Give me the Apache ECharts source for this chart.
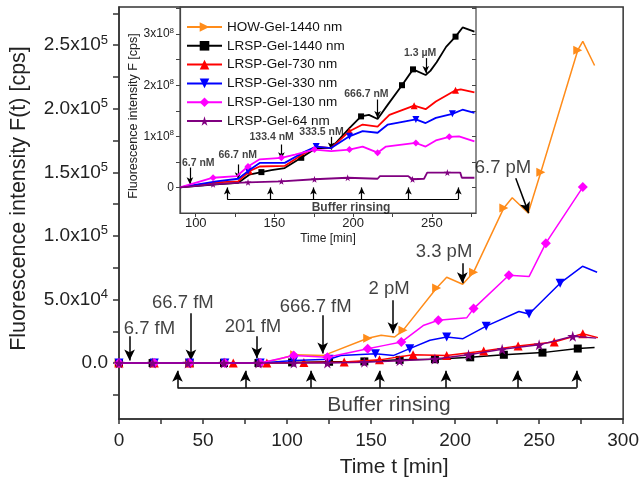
<!DOCTYPE html>
<html>
<head>
<meta charset="utf-8">
<script src="https://cdn.jsdelivr.net/npm/echarts@6/dist/echarts.min.js"></script>
<style>
  html, body { margin: 0; padding: 0; background: #fff; }
  #chart { width: 642px; height: 485px; }
</style>
</head>
<body>
<div id="chart"></div>
<script>
const FONT = '"Liberation Sans", Arial, sans-serif';

const seriesNames = ['HOW-Gel-1440 nm', 'LRSP-Gel-1440 nm', 'LRSP-Gel-730 nm', 'LRSP-Gel-330 nm', 'LRSP-Gel-130 nm', 'LRSP-Gel-64 nm'];

// main plot: [time min, F cps]
const howGel1440 = [[0,0],[21,0],[42,0],[63,0],[84,0],[95,3000],[104.5,6500],[122,6000],[148,19500],[156,21800],[164,20500],[169,25700],[189,59000],[195,67500],[204.5,62000],[211,71500],[229,122000],[234,130000],[243.5,118000],[251,150000],[273,246000],[276,253000],[283,234000]];
const howGel1440Marks = [0,21,42,63,84,104.5,148,169,189,211,229,251,273];
const lrsp1440 = [[0,0],[20,0],[42,0],[62.5,0],[83,0],[103,500],[125,1000],[146,1300],[167,2500],[188,3000],[209,4500],[229,6500],[252,8200],[273,11400],[283,12200]];
const lrsp1440Marks = [0,20,42,62.5,83,103,125,146,167,188,209,229,252,273];
const lrsp730 = [[0,0],[21,0],[42,0],[68,0],[88,0],[110,500],[134,800],[155,2500],[175,6500],[195,6000],[217,9500],[237.5,13500],[259,16500],[276,23000],[285,20000]];
const lrsp730Marks = [0,21,42,68,88,110,134,155,175,195,217,237.5,259,276];
const lrsp330 = [[0,0],[21,0],[42,0],[63,0],[84,0],[104,2000],[125,3000],[132,6000],[152.6,7400],[163.5,6000],[173,11300],[185,17900],[195,20500],[204.7,19200],[218.5,29000],[238,40500],[244,38500],[262.5,62800],[275.8,76100],[284.5,71400]];
const lrsp330Marks = [0,21,42,63,84,104,125,152.6,173,195,218.5,244,262.5];
const lrsp130 = [[0,0],[21,0],[42,0],[63,0],[84,0],[104,6000],[124,4500],[148,11300],[158,13900],[168,16500],[181,29500],[190,33600],[207,35700],[211,42800],[232,69100],[244,68000],[254,94300],[276,138400]];
const lrsp130Marks = [0,21,42,63,84,104,124,148,168,190,211,232,254,276];
const lrsp64 = [[0,0],[20,0],[41,0],[62.5,0],[83,0],[104,0],[124,0],[146,700],[167,1800],[188,3200],[208,6500],[228,10800],[250,14300],[270,21000],[284,19600]];
const lrsp64Marks = [0,20,41,62.5,83,104,124,146,167,188,208,228,250,270];

// inset: [time min, F in units of 1e8 cps]
const inset1440 = [[90,0],[113,0.06],[127,0.09],[134,0.25],[141.7,0.30],[148,0.34],[156.5,0.38],[167,0.58],[176.5,0.77],[186,0.77],[197.6,1.16],[205,1.39],[210,1.42],[215.5,1.34],[222,1.62],[231,2.0],[238,2.31],[246,2.20],[249,2.28],[253,2.45],[259,2.75],[265,2.95],[269.5,3.13],[277,3.05]];
const inset1440Marks = [141.7,167,205,231,238,265];
const inset730 = [[90,0],[113,0.1],[127,0.12],[134,0.32],[140.6,0.41],[156.5,0.42],[166,0.61],[176.5,0.80],[186,0.77],[197.6,1.10],[206,1.23],[215.5,1.19],[223,1.42],[238.7,1.60],[246,1.53],[252.5,1.68],[265,1.90],[268.3,1.92],[277,1.86]];
const inset730Marks = [134,197.6,238.7,265];
const inset330 = [[90,0],[113,0.12],[127,0.17],[133.2,0.32],[140.6,0.48],[156.5,0.48],[168,0.68],[176.5,0.80],[186,0.77],[197.6,1.0],[206,1.10],[215.5,1.07],[222,1.23],[239.8,1.33],[246,1.26],[252.5,1.36],[263,1.44],[269.4,1.52],[277,1.46]];
const inset330Marks = [133.2,176.5,197.6,239.8,263];
const inset130 = [[90,0],[111,0.19],[126,0.22],[133.2,0.41],[140.6,0.55],[154.4,0.58],[163,0.64],[175.4,0.74],[186,0.71],[197.6,0.74],[206,0.80],[215.5,0.68],[220.8,0.80],[239.8,0.87],[246,0.80],[252.5,0.92],[261,0.99],[267.2,1.00],[277,0.90]];
const inset130Marks = [111,133.2,154.4,175.4,197.6,215.5,239.8,261];
const inset64 = [[90,0],[111,0.06],[126,0.09],[133.2,0.10],[154.4,0.12],[175.4,0.16],[196.5,0.19],[215.5,0.17],[217,0.22],[235,0.22],[237.7,0.16],[245,0.17],[247,0.29],[259.8,0.29],[268,0.29],[269,0.19],[277,0.19]];
const inset64Marks = [111,133.2,154.4,175.4,196.5,237.7,259.8];

// axis ticks / labels
const mainXTicks = [0,25,50,75,100,125,150,175,200,225,250,275,300];
const mainXLabels = [0,50,100,150,200,250,300];
const mainYTicks = [-25000,0,25000,50000,75000,100000,125000,150000,175000,200000,225000,250000,275000];
const mainYLabels = [[0,'0.0',''],[50000,'5.0x10','4'],[100000,'1.0x10','5'],[150000,'1.5x10','5'],[200000,'2.0x10','5'],[250000,'2.5x10','5']];
const insetXTicks = [100,125,150,175,200,225,250,275];
const insetXLabels = [100,150,200,250];
const insetYTicks = [0,0.5,1,1.5,2,2.5,3,3.5];
const insetYLabels = [[0,'0',''],[1,'1x10','8'],[2,'2x10','8'],[3,'3x10','8']];

// annotations
const mainConcText = ['6.7 fM','66.7 fM','201 fM','666.7 fM','2 pM','3.3 pM','6.7 pM'];
const mainConcTextAt = [[18.1,26500],[38,47000],[79.7,28100],[117,43900],[160.7,58000],[193.4,87200],[228.5,153300]];
const mainConcArrows = [[6.3,21000,6.3,2100],[42.8,39100,42.8,2100],[82,21000,82,3700],[121.2,37600,121.2,7600],[163,49400,163,23400],[204.3,78500,204.3,62800],[236.1,145400,243.8,117900]];
const mainRinseTimes = [34.8,75.2,114.4,155,194.6,237,272.4];
const insetConcText = ['6.7 nM','66.7 nM','133.4 nM','333.5 nM','666.7 nM','1.3 µM'];
const insetConcTextAt = [[101.6,0.48],[126.7,0.64],[148.2,0.99],[179.9,1.09],[208.4,1.83],[242.5,2.63]];
const insetConcArrows = [[96.3,0.39,96.3,0.06],[126.9,0.45,126.9,0.16],[154.4,0.84,154.4,0.55],[186,0.99,186,0.74],[215.5,1.72,215.5,1.36],[246.1,2.53,246.1,2.24]];
const insetRinseTimes = [120,147.4,174.8,205.4,235.1,266.8];

const STAR = 'path://M50,0 L61,35 L98,35 L68,57 L79,91 L50,70 L21,91 L32,57 L2,35 L39,35 Z';
const styles = [
  { color: '#ff8c1a', symbol: 'triangle', rotate: -90 },
  { color: '#000000', symbol: 'rect', rotate: 0 },
  { color: '#ff0000', symbol: 'triangle', rotate: 0 },
  { color: '#0000ff', symbol: 'triangle', rotate: 180 },
  { color: '#ff00ff', symbol: 'diamond', rotate: 0 },
  { color: '#800080', symbol: STAR, rotate: 0 }
];

function withMarks(points, marks) {
  return points.map(p => marks.includes(p[0]) ? p : { value: p, symbol: 'none' });
}

function curve(i, points, marks, axis, size, width) {
  const s = styles[i];
  return {
    name: seriesNames[i], type: 'line', xAxisIndex: axis, yAxisIndex: axis,
    data: withMarks(points, marks),
    symbol: s.symbol, symbolRotate: s.rotate, symbolSize: size, showSymbol: true,
    color: s.color, itemStyle: { color: s.color },
    lineStyle: { color: s.color, width: width },
    z: 3 + i
  };
}

function arrows(list, rinse, tip, base, head, width) {
  const data = list.map(a => [{ coord: [a[0], a[1]] }, { coord: [a[2], a[3]] }]);
  rinse.forEach(t => data.push([{ coord: [t, base] }, { coord: [t, tip] }]));
  data.push([{ coord: [rinse[0], base], symbol: 'none' }, { coord: [rinse[rinse.length - 1], base], symbol: 'none' }]);
  return {
    silent: true, animation: false,
    symbol: ['none', 'arrow'], symbolSize: head,
    lineStyle: { color: '#000', width: width, type: 'solid' },
    label: { show: false },
    emphasis: { disabled: true },
    data: data
  };
}

function notes(axis, texts, at, extra, extraAt, font, extraFont, weight) {
  const data = texts.map((t, i) => ({ name: t, value: at[i] }));
  data.push({ name: extra, value: extraAt, label: { fontSize: extraFont } });
  return {
    type: 'scatter', xAxisIndex: axis, yAxisIndex: axis,
    symbol: 'circle', symbolSize: 0.1, itemStyle: { color: 'transparent' },
    label: { show: true, position: 'inside', formatter: '{b}', color: '#111', fontFamily: FONT, fontSize: font, fontWeight: weight },
    data: data, z: 10
  };
}

const supRich = (base, sup) => ({
  a: { fontSize: base, fontFamily: FONT, color: '#222' },
  s: { fontSize: sup, fontFamily: FONT, color: '#222', padding: [0, 0, Math.round(base * 0.55), 0] }
});

function supFormatter(list) {
  return v => {
    const e = list.find(l => Math.abs(l[0] - v) < 1e-9);
    if (!e) return '';
    return e[2] ? '{a|' + e[1] + '}{s|' + e[2] + '}' : '{a|' + e[1] + '}';
  };
}

const mainNote = notes(0, mainConcText, mainConcTextAt, 'Buffer rinsing', [160.6, -33100], 18.5, 21, 'normal');
mainNote.markLine = arrows(mainConcArrows, mainRinseTimes, -6100, -19500, [8, 11], 1.5);
const insetNote = notes(1, insetConcText, insetConcTextAt, 'Buffer rinsing', [198.6, -0.40], 10.5, 12, 'bold');
insetNote.markLine = arrows(insetConcArrows, insetRinseTimes, 0, -0.234, [5, 7], 1.2);

const option = {
  animation: false,
  backgroundColor: '#fff',
  textStyle: { fontFamily: FONT },
  grid: [
    { left: 119, right: 14, top: 7, bottom: 66, show: true, borderColor: '#333', borderWidth: 1.5, backgroundColor: 'transparent' },
    { left: 180, right: 166, top: 7, bottom: 272, show: true, borderColor: '#444', borderWidth: 1.2, backgroundColor: 'transparent' }
  ],
  legend: {
    orient: 'vertical', left: 181, top: 15, itemWidth: 35, itemHeight: 12, itemGap: 4.8,
    selectedMode: false, data: seriesNames,
    textStyle: { fontSize: 13.5, fontFamily: FONT, color: '#111', lineHeight: 14 }
  },
  xAxis: [
    {
      gridIndex: 0, type: 'value', min: 0, max: 300,
      name: 'Time t [min]', nameLocation: 'middle', nameGap: 38,
      nameTextStyle: { fontSize: 21, fontFamily: FONT, color: '#222', padding: [0, 0, 0, 46] },
      axisLine: { onZero: false, lineStyle: { color: '#333', width: 1.5 } },
      axisTick: { customValues: mainXTicks, length: 5, lineStyle: { color: '#333', width: 1.5 } },
      axisLabel: { customValues: mainXLabels, fontSize: 19, fontFamily: FONT, color: '#222', margin: 12 },
      splitLine: { show: false }
    },
    {
      gridIndex: 1, type: 'value', min: 90, max: 278,
      name: 'Time [min]', nameLocation: 'middle', nameGap: 20,
      nameTextStyle: { fontSize: 12, fontFamily: FONT, color: '#222' },
      axisLine: { onZero: false, lineStyle: { color: '#444', width: 1.2 } },
      axisTick: { customValues: insetXTicks, length: 4, lineStyle: { color: '#444' } },
      axisLabel: { customValues: insetXLabels, fontSize: 13, fontFamily: FONT, color: '#222', margin: 4 },
      splitLine: { show: false }
    }
  ],
  yAxis: [
    {
      gridIndex: 0, type: 'value', min: -44000, max: 280000,
      name: 'Fluorescence intensity F(t) [cps]', nameLocation: 'middle', nameGap: 89,
      nameTextStyle: { fontSize: 21.5, fontFamily: FONT, color: '#222', padding: [0, 0, 0, 29] },
      axisLine: { onZero: false, lineStyle: { color: '#333', width: 1.5 } },
      axisTick: { customValues: mainYTicks, length: 6, lineStyle: { color: '#333', width: 1.5 } },
      axisLabel: { customValues: mainYLabels.map(l => l[0]), formatter: supFormatter(mainYLabels), rich: supRich(19, 13), margin: 11 },
      splitLine: { show: false }
    },
    {
      gridIndex: 1, type: 'value', min: -0.5, max: 3.53,
      name: 'Fluorescence intensity F [cps]', nameLocation: 'middle', nameGap: 39,
      nameTextStyle: { fontSize: 12.5, fontFamily: FONT, color: '#222', padding: [0, 12, 0, 0] },
      axisLine: { onZero: false, lineStyle: { color: '#444', width: 1.2 } },
      axisTick: { customValues: insetYTicks, length: 4, lineStyle: { color: '#444' } },
      axisLabel: { customValues: insetYLabels.map(l => l[0]), formatter: supFormatter(insetYLabels), rich: supRich(12, 8), margin: 6 },
      splitLine: { show: false }
    },
    {
      gridIndex: 1, type: 'value', min: -0.5, max: 3.53, position: 'right',
      axisLine: { show: false },
      axisTick: { inside: true, customValues: insetYTicks, length: 4, lineStyle: { color: '#444' } },
      axisLabel: { show: false },
      splitLine: { show: false }
    }
  ],
  series: [
    curve(0, howGel1440, howGel1440Marks, 0, 9, 1.5),
    curve(1, lrsp1440, lrsp1440Marks, 0, 8, 1.5),
    curve(2, lrsp730, lrsp730Marks, 0, 9, 1.5),
    curve(3, lrsp330, lrsp330Marks, 0, 9, 1.5),
    curve(4, lrsp130, lrsp130Marks, 0, 10, 1.5),
    curve(5, lrsp64, lrsp64Marks, 0, 11, 1.5),
    curve(1, inset1440, inset1440Marks, 1, 6, 1.8),
    curve(2, inset730, inset730Marks, 1, 7, 1.8),
    curve(3, inset330, inset330Marks, 1, 7, 1.8),
    curve(4, inset130, inset130Marks, 1, 7, 1.8),
    curve(5, inset64, inset64Marks, 1, 7, 1.8),
    mainNote,
    insetNote
  ]
};

const chart = echarts.init(document.getElementById('chart'), null, { renderer: 'canvas' });
chart.setOption(option);
</script>
</body>
</html>
